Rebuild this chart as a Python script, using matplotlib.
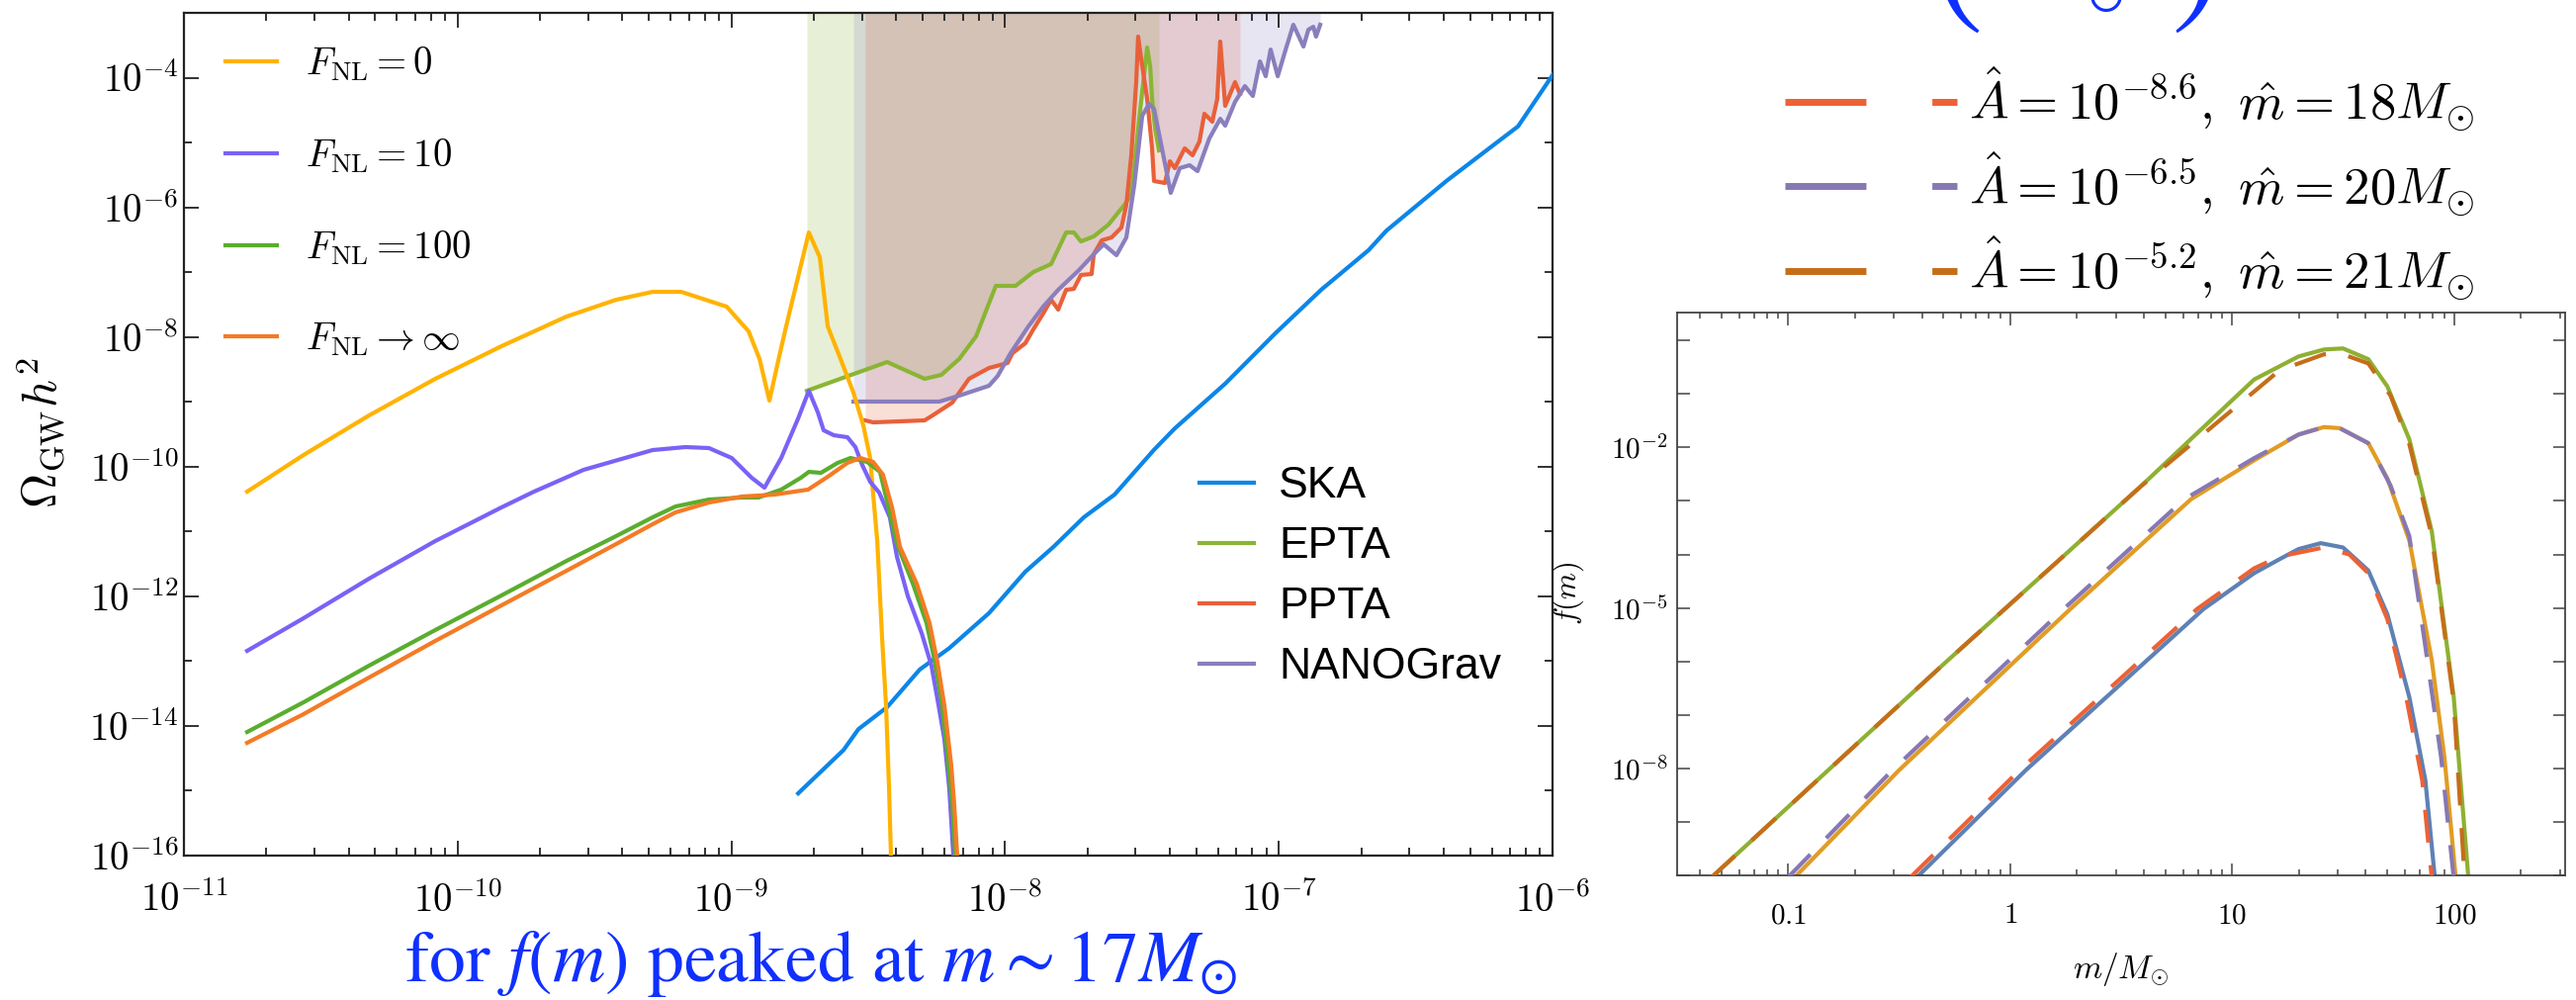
import numpy as np
import matplotlib
matplotlib.use("Agg")
import matplotlib.pyplot as plt
from matplotlib.lines import Line2D
from matplotlib.ticker import FixedLocator, FuncFormatter, LogLocator, NullLocator, NullFormatter

plt.rcParams["mathtext.fontset"] = "cm"
plt.rcParams["font.family"] = ["DejaVu Serif"]

# ---------------- left panel: log10(f / Hz), log10(Omega_GW h^2) ----------------
fnl0_logf = [-10.769, -10.563, -10.324, -10.082, -9.840, -9.602, -9.421, -9.288, -9.183, -9.017,
             -8.937, -8.897, -8.861, -8.829, -8.800, -8.717, -8.677, -8.648, -8.601, -8.554,
             -8.518, -8.493, -8.486, -8.467, -8.449, -8.435, -8.424, -8.417, -8.413]
fnl0_logo = [-10.385, -9.820, -9.210, -8.645, -8.142, -7.684, -7.425, -7.303, -7.303, -7.532,
             -7.913, -8.340, -8.981, -8.371, -7.837, -6.387, -6.769, -7.837, -8.340, -8.859,
             -9.363, -9.866, -10.232, -11.148, -12.673, -13.681, -14.962, -16.0, -16.5]

fnl10_logf = [-10.769, -10.563, -10.324, -10.082, -9.840, -9.721, -9.540, -9.288, -9.168, -9.082,
              -8.999, -8.926, -8.879, -8.818, -8.756, -8.717, -8.684, -8.663, -8.626, -8.576,
              -8.547, -8.522, -8.493, -8.460, -8.421, -8.395, -8.355, -8.305, -8.269, -8.247,
              -8.222, -8.204, -8.189, -8.186]
fnl10_logo = [-12.841, -12.338, -11.728, -11.148, -10.629, -10.385, -10.049, -9.744, -9.698, -9.713,
              -9.866, -10.171, -10.324, -9.866, -9.256, -8.829, -9.164, -9.439, -9.515, -9.546,
              -9.698, -9.973, -10.232, -10.400, -10.782, -11.392, -12.002, -12.567, -13.070, -13.589,
              -14.199, -14.962, -16.0, -16.5]

fnl100_logf = [-10.769, -10.563, -10.324, -10.082, -9.840, -9.602, -9.421, -9.288, -9.204, -9.082,
               -8.962, -8.901, -8.818, -8.746, -8.717, -8.673, -8.612, -8.565, -8.504, -8.457,
               -8.431, -8.395, -8.337, -8.287, -8.258, -8.233, -8.211, -8.193, -8.182, -8.180]
fnl100_logo = [-14.093, -13.635, -13.070, -12.521, -11.987, -11.453, -11.071, -10.782, -10.614, -10.507,
               -10.476, -10.476, -10.354, -10.171, -10.080, -10.095, -9.942, -9.866, -9.927, -10.080,
               -10.537, -11.193, -11.804, -12.414, -12.979, -13.589, -14.443, -15.206, -16.0, -16.5]

fnlinf_logf = [-10.769, -10.563, -10.324, -10.082, -9.840, -9.602, -9.421, -9.288, -9.204, -9.082,
               -8.962, -8.843, -8.720, -8.648, -8.576, -8.529, -8.482, -8.446, -8.413, -8.384,
               -8.323, -8.276, -8.247, -8.222, -8.197, -8.186, -8.175, -8.172]
fnlinf_logo = [-14.260, -13.818, -13.253, -12.689, -12.140, -11.605, -11.193, -10.888, -10.705, -10.553,
               -10.461, -10.431, -10.354, -10.156, -9.942, -9.866, -9.927, -10.125, -10.629, -11.239,
               -11.804, -12.414, -13.024, -13.681, -14.596, -15.206, -16.0, -16.5]

ska_logf = [-8.756, -8.590, -8.536, -8.431, -8.312, -8.204, -8.059, -7.926, -7.824, -7.712,
            -7.600, -7.456, -7.380, -7.196, -7.012, -6.845, -6.672, -6.607, -6.387, -6.126, -6.000]
ska_logo = [-15.04, -14.37, -14.05, -13.71, -13.13, -12.80, -12.26, -11.62, -11.24, -10.78,
            -10.43, -9.74, -9.41, -8.72, -7.94, -7.27, -6.66, -6.36, -5.59, -4.75, -3.96]

epta_logf = [-8.724, -8.431, -8.294, -8.233, -8.168, -8.106, -8.034, -7.962, -7.897, -7.832,
             -7.777, -7.749, -7.723, -7.676, -7.622, -7.564, -7.539, -7.510, -7.492, -7.481,
             -7.470, -7.463, -7.452, -7.438]
epta_logo = [-8.829, -8.386, -8.645, -8.584, -8.340, -7.989, -7.211, -7.211, -6.998, -6.875,
             -6.387, -6.387, -6.525, -6.448, -6.265, -5.960, -5.807, -4.633, -3.946, -3.534,
             -3.824, -4.327, -4.785, -5.121]

ppta_logf = [-8.511, -8.482, -8.294, -8.265, -8.193, -8.132, -8.059, -7.991, -7.973, -7.926,
             -7.897, -7.861, -7.832, -7.806, -7.777, -7.749, -7.723, -7.684, -7.676, -7.647,
             -7.611, -7.575, -7.557, -7.539, -7.521, -7.514, -7.499, -7.481, -7.463, -7.456,
             -7.416, -7.398, -7.380, -7.344, -7.315, -7.290, -7.272, -7.243, -7.225, -7.214,
             -7.207, -7.196, -7.178, -7.160, -7.142]
ppta_logo = [-9.286, -9.317, -9.286, -9.210, -9.012, -8.645, -8.478, -8.401, -8.249, -8.096,
             -7.883, -7.638, -7.425, -7.577, -7.272, -7.257, -7.043, -7.028, -6.723, -6.509,
             -6.464, -6.311, -5.960, -5.197, -4.068, -3.366, -3.824, -4.327, -5.090, -5.594,
             -5.624, -5.289, -5.395, -5.090, -5.197, -4.984, -4.556, -4.678, -4.327, -3.442,
             -3.824, -4.434, -4.251, -4.068, -4.251]

nano_logf = [-8.554, -8.240, -8.168, -8.059, -8.027, -7.980, -7.915, -7.861, -7.806, -7.730,
             -7.676, -7.640, -7.593, -7.557, -7.528, -7.499, -7.474, -7.456, -7.427, -7.395,
             -7.362, -7.326, -7.297, -7.254, -7.214, -7.196, -7.160, -7.124, -7.095, -7.069,
             -7.048, -7.030, -7.004, -6.975, -6.947, -6.910, -6.892, -6.874, -6.864, -6.849]
nano_logo = [-8.996, -8.996, -8.905, -8.752, -8.600, -8.249, -7.837, -7.532, -7.272, -6.967,
             -6.723, -6.570, -6.738, -6.464, -5.655, -4.587, -4.404, -4.480, -5.090, -5.777,
             -5.395, -5.350, -5.441, -4.938, -4.633, -4.739, -4.373, -4.129, -4.282, -3.748,
             -3.977, -3.565, -3.977, -3.565, -3.183, -3.519, -3.259, -3.214, -3.366, -3.183]

fnl_labels = [r"$F_{\rm NL}=0$", r"$F_{\rm NL}=10$", r"$F_{\rm NL}=100$", r"$F_{\rm NL}\to\infty$"]
det_labels = ["SKA", "EPTA", "PPTA", "NANOGrav"]

# ---------------- right panel: log10(m / Msun), log10 f(m) ----------------
green_logm = [-1.349, -0.297, 0.585, 1.099, 1.299, 1.413, 1.499, 1.613, 1.699, 1.798,
              1.899, 1.998, 2.064]
green_logf = [-10.05, -6.04, -2.74, -0.73, -0.30, -0.17, -0.15, -0.35, -0.86, -1.85,
              -3.57, -6.67, -10.05]
brown_logm = [-1.349, -0.297, 0.585, 1.213, 1.413, 1.499, 1.613, 1.713, 1.798, 1.899,
              1.998, 2.047]
brown_logf = [-10.05, -6.04, -2.74, -0.56, -0.26, -0.26, -0.43, -1.03, -1.94, -3.66,
              -6.76, -10.05]

orange_logm = [-0.974, -0.500, 0.271, 0.814, 1.099, 1.299, 1.413, 1.484, 1.613, 1.699,
               1.798, 1.899, 1.956, 2.007]
orange_logf = [-10.05, -8.03, -5.02, -2.97, -2.24, -1.76, -1.62, -1.64, -1.92, -2.58,
               -3.74, -5.98, -7.79, -10.05]
purple_logm = [-1.004, -0.530, 0.241, 0.784, 1.099, 1.299, 1.413, 1.484, 1.613, 1.713,
               1.798, 1.870, 1.941, 1.998]
purple_logf = [-10.05, -8.03, -5.02, -2.97, -2.20, -1.76, -1.62, -1.64, -1.92, -2.71,
               -3.66, -5.72, -7.79, -10.05]

blue_logm = [-0.424, 0.071, 0.871, 1.099, 1.213, 1.299, 1.399, 1.499, 1.613, 1.699,
             1.798, 1.870, 1.913]
blue_logf = [-10.05, -8.03, -5.02, -4.35, -4.09, -3.90, -3.79, -3.87, -4.30, -5.12,
             -6.67, -8.22, -10.05]
red_logm = [-0.453, 0.043, 0.842, 1.099, 1.213, 1.413, 1.527, 1.613, 1.699, 1.784,
            1.856, 1.899]
red_logf = [-10.05, -8.03, -5.02, -4.26, -4.04, -3.87, -4.00, -4.35, -5.21, -6.67,
            -8.22, -10.05]

fit_labels = [r"$\hat{A}=10^{-8.6},\ \hat{m}=18M_{\odot}$",
              r"$\hat{A}=10^{-6.5},\ \hat{m}=20M_{\odot}$",
              r"$\hat{A}=10^{-5.2},\ \hat{m}=21M_{\odot}$"]


def pw(a):
    return 10.0 ** np.asarray(a)


fig = plt.figure(figsize=(26.05, 10.11), dpi=100)
ax = fig.add_axes([0.0714, 0.1444, 0.5313, 0.8427])
ax2 = fig.add_axes([0.6511, 0.1246, 0.3447, 0.5628])

# Detector sensitivity regions (shaded above each curve)
c_epta, c_ppta, c_nano, c_ska = "#8AB534", "#E8603A", "#8A7EBD", "#0C86E8"
for lf, lo, c in [(epta_logf, epta_logo, c_epta), (ppta_logf, ppta_logo, c_ppta),
                  (nano_logf, nano_logo, c_nano)]:
    ax.fill_between(pw(lf), pw(lo), 1.0, color=c, alpha=0.2, lw=0, zorder=1)

h_epta, = ax.plot(pw(epta_logf), pw(epta_logo), color=c_epta, lw=3, zorder=2)
h_ppta, = ax.plot(pw(ppta_logf), pw(ppta_logo), color=c_ppta, lw=3, zorder=2)
h_nano, = ax.plot(pw(nano_logf), pw(nano_logo), color=c_nano, lw=3, zorder=2)
h_ska, = ax.plot(pw(ska_logf), pw(ska_logo), color=c_ska, lw=3, zorder=3)

# Omega_GW curves
h0, = ax.plot(pw(fnl0_logf), pw(fnl0_logo), color="#FFB300", lw=3, zorder=4)
h10, = ax.plot(pw(fnl10_logf), pw(fnl10_logo), color="#7A62F7", lw=3, zorder=4)
h100, = ax.plot(pw(fnl100_logf), pw(fnl100_logo), color="#5AAD2E", lw=3, zorder=4)
hinf, = ax.plot(pw(fnlinf_logf), pw(fnlinf_logo), color="#F47B25", lw=3, zorder=4)

ax.set_xscale("log")
ax.set_yscale("log")
ax.set_xlim(1e-11, 1e-6)
ax.set_ylim(1e-16, 1e-3)

dec_fmt = FuncFormatter(lambda v, p: r"$10^{%d}$" % int(round(np.log10(v))))
ax.xaxis.set_major_locator(FixedLocator(pw(np.arange(-11, -5))))
ax.xaxis.set_minor_locator(LogLocator(base=10, subs=np.arange(2, 10), numticks=50))
ax.xaxis.set_major_formatter(dec_fmt)
ax.xaxis.set_minor_formatter(NullFormatter())
ax.yaxis.set_major_locator(FixedLocator(pw(np.arange(-16, -3, 2))))
ax.yaxis.set_minor_locator(FixedLocator(pw(np.arange(-15, -2, 2))))
ax.yaxis.set_major_formatter(dec_fmt)
ax.yaxis.set_minor_formatter(NullFormatter())
ax.tick_params(which="both", direction="in", top=True, right=True, width=1.3, color="#222222")
ax.tick_params(which="major", length=11, labelsize=28)
ax.tick_params(which="minor", length=5.5)
ax.tick_params(axis="x", pad=19)
ax.tick_params(axis="y", pad=4)
for s in ax.spines.values():
    s.set_linewidth(1.6)
    s.set_color("#222222")

leg1 = ax.legend([h0, h10, h100, hinf], fnl_labels, loc="upper left", bbox_to_anchor=(0.030, 0.962),
                 frameon=False, fontsize=28, handlelength=1.35, handletextpad=0.75, labelspacing=1.4,
                 borderpad=0, borderaxespad=0)
ax.add_artist(leg1)
ax.legend([h_ska, h_epta, h_ppta, h_nano], det_labels, loc="upper left", bbox_to_anchor=(0.742, 0.462),
          frameon=False, prop={"family": "Liberation Sans", "size": 32}, handlelength=1.23,
          handletextpad=0.57, labelspacing=0.45, borderpad=0, borderaxespad=0)

fig.text(0.016, 0.567, r"$\Omega_{\rm GW}h^2$", rotation=90, fontsize=35, ha="center", va="center")

# ---------------- right panel ----------------
ax2.plot(pw(green_logm), pw(green_logf), color="#8FB032", lw=3, zorder=2)
ax2.plot(pw(orange_logm), pw(orange_logf), color="#E19C24", lw=3, zorder=2)
ax2.plot(pw(blue_logm), pw(blue_logf), color="#5E81B5", lw=3, zorder=2)
ax2.plot(pw(brown_logm), pw(brown_logf), color="#C56E1A", lw=3, dashes=(8, 5.5), zorder=3)
ax2.plot(pw(purple_logm), pw(purple_logf), color="#8778B3", lw=3, dashes=(8, 5.5), zorder=3)
ax2.plot(pw(red_logm), pw(red_logf), color="#EB6235", lw=3, dashes=(8, 5.5), zorder=3)

ax2.set_xscale("log")
ax2.set_yscale("log")
ax2.set_xlim(10 ** -1.5, 10 ** 2.5)
ax2.set_ylim(1e-10, 10 ** 0.52)
ax2.xaxis.set_major_locator(FixedLocator([0.1, 1, 10, 100]))
ax2.xaxis.set_major_formatter(FuncFormatter(lambda v, p: "$%g$" % v))
ax2.xaxis.set_minor_locator(LogLocator(base=10, subs=np.arange(2, 10), numticks=50))
ax2.xaxis.set_minor_formatter(NullFormatter())
ax2.yaxis.set_major_locator(FixedLocator(pw(np.arange(-10, 1))))
ax2.yaxis.set_minor_locator(NullLocator())
ax2.yaxis.set_major_formatter(FuncFormatter(
    lambda v, p: r"$10^{%d}$" % int(round(np.log10(v))) if int(round(np.log10(v))) in (-2, -5, -8) else ""))
ax2.tick_params(which="both", direction="in", top=True, right=True, width=1.1, color="#444444")
ax2.tick_params(which="major", length=9, labelsize=21)
ax2.tick_params(which="minor", length=4.5)
ax2.tick_params(axis="x", pad=19)
ax2.tick_params(axis="y", pad=7)
for s in ax2.spines.values():
    s.set_linewidth(1.3)
    s.set_color("#444444")

fig.text(0.8234, 0.031, r"$m/M_{\odot}$", fontsize=24, ha="center", va="center")
fig.text(0.6088, 0.4065, r"$f(m)$", fontsize=22, rotation=90, ha="center", va="center")

fit_handles = [Line2D([], [], color=c, lw=5, dashes=(11.8, 9.6)) for c in ("#EB6235", "#8778B3", "#C56E1A")]
fig.legend(fit_handles, fit_labels, loc="upper left", bbox_to_anchor=(0.693, 0.935), frameon=False,
           fontsize=38, handlelength=3.3, handletextpad=0.21, labelspacing=0.3, borderpad=0,
           borderaxespad=0)

# blue annotations (the top one is cut off by the figure edge, as in the original)
blue = "#0F30FF"
fig.text(0.3185, 0.019, r"for $f(m)$ peaked at $m\sim 17M_{\odot}$", fontsize=53, color=blue,
         family="STIXGeneral", math_fontfamily="stix", ha="center", va="baseline")
fig.text(0.7593, 0.9624, r"$($", fontsize=110, color=blue, math_fontfamily="stix", ha="center", va="bottom")
fig.text(0.8514, 0.9624, r"$)$", fontsize=110, color=blue, math_fontfamily="stix", ha="center", va="bottom")
fig.text(0.8173, 0.982, r"$\odot$", fontsize=34, color=blue, math_fontfamily="stix", ha="center", va="bottom")

fig.savefig("out.png", dpi=100)
